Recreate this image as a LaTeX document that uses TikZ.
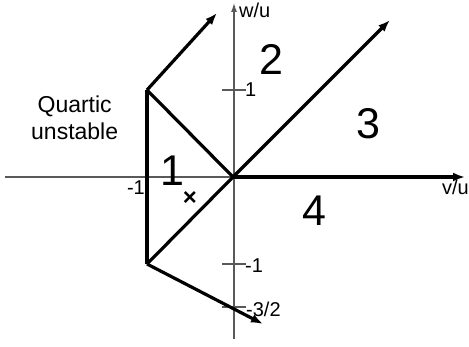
\documentclass[tikz,border=0pt]{standalone}
\usepackage{fontspec}
\setmainfont{Liberation Sans}
\usetikzlibrary{arrows.meta}
\begin{document}
\begin{tikzpicture}[x=1pt,y=-1pt,
  axis/.style={draw=black!65,line width=1.2pt},
  thick line/.style={draw=black,line width=3.2pt},
  arr/.style={-{Latex[length=12pt,width=9pt]}},
  region/.style={font=\fontsize{43}{43}\selectfont,inner sep=0pt},
  ticklab/.style={font=\fontsize{20}{20}\selectfont,inner sep=0pt}]
\useasboundingbox (0,0) rectangle (469,347);
\coordinate (O) at (233,177);
\coordinate (A) at (147,90);
\coordinate (B) at (147,264);
\coordinate (L) at (5,177);
\coordinate (T) at (234,3);
\coordinate (Bot) at (234,339);
\coordinate (Ae) at (217,13);
\coordinate (Oe) at (390,20);
\coordinate (Be) at (263,324);
\coordinate (Re) at (465,177);
% axes
\draw[axis] (L) -- (O);
\draw[axis,-{Latex[length=9pt,width=6pt]}] (Bot) -- (T);
\draw[axis] (222,90) -- (246,90);
\draw[axis] (222,264) -- (246,264);
\draw[axis] (222,307) -- (246,307);
% thick lines
\draw[thick line] (A) -- (B);
\draw[thick line] (A) -- (O);
\draw[thick line] (B) -- (O);
\draw[thick line,arr] (A) -- (Ae);
\draw[thick line,arr] (O) -- (Oe);
\draw[thick line,arr] (B) -- (Be);
\draw[thick line,arr] (O) -- (Re);
% labels
\node[region] (r1) at (172,171) {1};
\node[region] (r2) at (271,59) {2};
\node[region] (r3) at (368,124) {3};
\node[region] (r4) at (314,211) {4};
\node[font=\fontsize{24}{24}\selectfont\bfseries,inner sep=0pt] (x) at (190,199) {×};
\node[align=center,font=\fontsize{23}{27}\selectfont,inner sep=0pt,anchor=base west] (q) at (31,140) {Quartic\\unstable};
\node[ticklab,anchor=east] (m1x) at (145,188) {-1};
\node[ticklab,anchor=west] (p1) at (245,90) {1};
\node[ticklab,anchor=west] (m1y) at (245,266) {-1};
\node[ticklab,anchor=west] (m32) at (246,309) {-3/2};
\node[ticklab,anchor=west] (wu) at (239,10) {w/u};
\node[ticklab,anchor=north east] (vu) at (469,180) {v/u};
\end{tikzpicture}
\end{document}
